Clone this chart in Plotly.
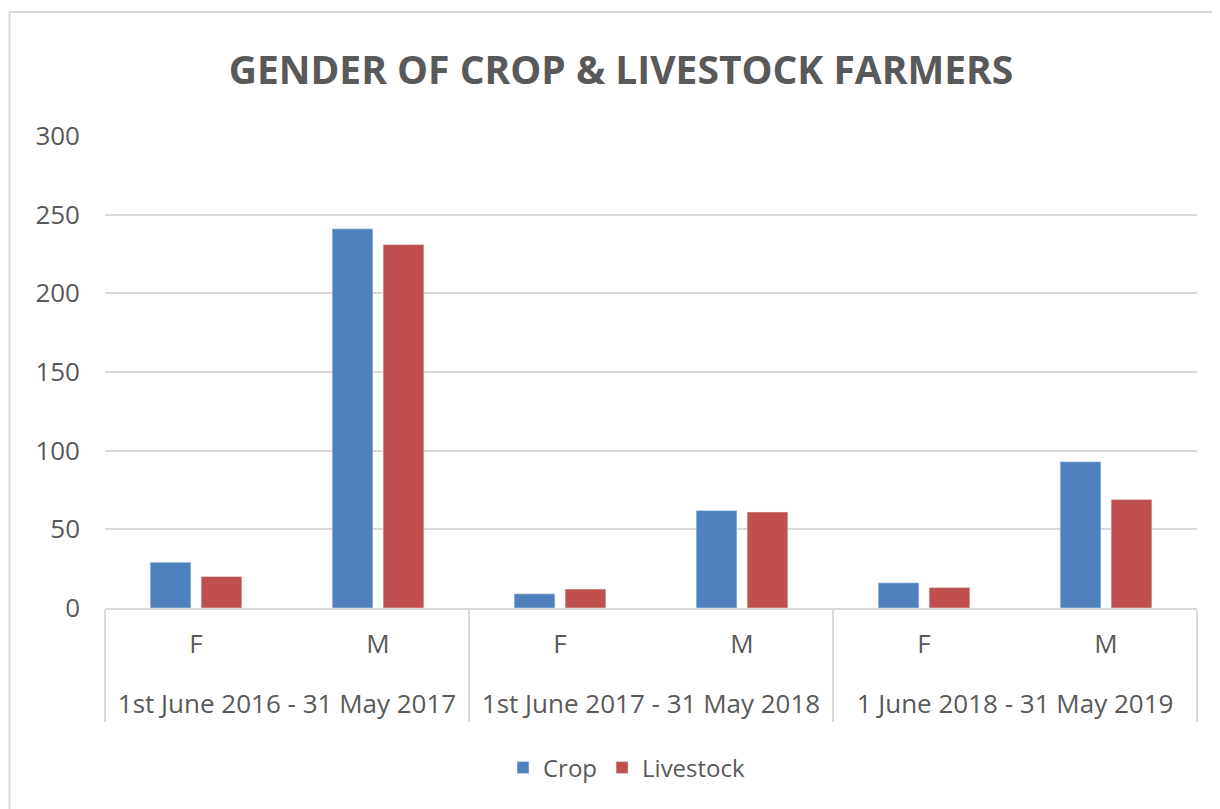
import plotly.graph_objects as go

periods = ["1st June 2016 - 31 May 2017", "1st June 2017 - 31 May 2018", "1 June 2018 - 31 May 2019"]
genders = ["F", "M"]
crop = [29, 241, 9, 62, 16, 93]
livestock = [20, 231, 12, 61, 13, 69]

x_outer = ["<br>" + p for p in periods for g in genders]
x_inner = [g for p in periods for g in genders]

TXT = "#595959"
GRID = "#d9d9d9"
FONT = "Open Sans"

# page has an 8px body margin; figure is sized so it ends at the viewport edge
OFF = 8
W, H = 1220 - OFF, 809 - OFF

fig = go.Figure()
fig.add_trace(go.Bar(name="Crop", x=[x_outer, x_inner], y=crop, marker_color="#4f81bd"))
fig.add_trace(go.Bar(name="Livestock", x=[x_outer, x_inner], y=livestock, marker_color="#c0504d"))

L, R, T, B = 105, 1197, 136, 608
pw, ph = R - L, B - T

def px_x(v):
    return (v - L) / pw

def px_y(v):
    return (B - v) / ph

fig.update_layout(
    width=W, height=H,
    margin=dict(l=L - OFF, r=1220 - R, t=T - OFF, b=809 - B, autoexpand=False),
    paper_bgcolor="white", plot_bgcolor="white",
    font=dict(family=FONT, color=TXT, size=24),
    barmode="group", bargap=0.44, bargroupgap=0.2,
    title=dict(text="<b>GENDER OF CROP &amp; LIVESTOCK FARMERS</b>",
               font=dict(family=FONT, size=39, color=TXT),
               x=px_x(621), xref="paper", xanchor="center",
               y=1 - (70 - OFF) / H, yref="container", yanchor="middle"),
    showlegend=True,
    legend=dict(orientation="h", x=px_x(627), xanchor="center", y=px_y(768), yanchor="middle",
                font=dict(size=24, color=TXT), itemwidth=30, traceorder="normal"),
    xaxis=dict(type="multicategory", showline=True, linecolor=GRID, linewidth=1.5,
               showdividers=True, dividercolor=GRID, dividerwidth=1.5,
               tickfont=dict(size=26, color=TXT), ticks="", ticklabelstandoff=12),
    yaxis=dict(range=[0, 300], dtick=50, showgrid=True, gridcolor=GRID, gridwidth=1.5,
               zeroline=False, showline=False, tickfont=dict(size=26, color=TXT),
               ticks="", ticklabelstandoff=24),
    shapes=[dict(type="rect", xref="paper", yref="paper",
                 x0=px_x(OFF + 1.5), x1=px_x(1400), y0=px_y(12), y1=px_y(1000),
                 line=dict(color=GRID, width=2), fillcolor="rgba(0,0,0,0)", layer="below")],
)

fig.write_html("out.html")
